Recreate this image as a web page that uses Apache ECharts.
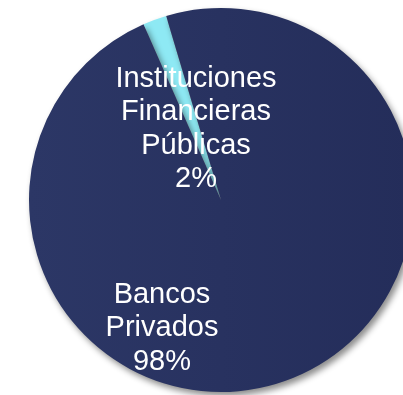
<!DOCTYPE html>
<html><head><meta charset="utf-8">
<script src="https://cdn.jsdelivr.net/npm/echarts@6/dist/echarts.min.js"></script>
<style>html,body{margin:0;padding:0;background:#fff}#c{width:403px;height:395px}</style>
</head><body><div id="c"></div>
<script>
const categories = ['Instituciones\nFinancieras\nPúblicas', 'Bancos\nPrivados'];
const values = [2, 98];
const colors = ['#8ee9f4', '#28325f'];
const labelPos = [[196, 129], [162, 328]];

const chart = echarts.init(document.getElementById('c'));
chart.setOption({
  animation: false,
  series: [{
    type: 'pie',
    center: [221, 200],
    radius: 192,
    startAngle: 113.8,
    clockwise: true,
    silent: true,
    data: categories.map((n, i) => ({
      name: n, value: values[i],
      itemStyle: {
        color: i === 1 ? new echarts.graphic.LinearGradient(0, 0, 1, 0, [
          {offset: 0, color: '#2c3766'}, {offset: 1, color: '#242d5a'}]) : colors[i]
      }
    })),
    itemStyle: {
      shadowBlur: 6, shadowOffsetX: 3, shadowOffsetY: 4, shadowColor: 'rgba(0,0,0,0.45)'
    },
    label: {
      show: true, position: 'inside',
      formatter: p => p.name + '\n' + p.value + '%',
      color: '#ffffff', fontFamily: 'Liberation Sans, Arial, sans-serif',
      fontSize: 29, lineHeight: 33.5, align: 'center'
    },
    labelLine: {show: false},
    labelLayout: p => ({x: labelPos[p.dataIndex][0], y: labelPos[p.dataIndex][1], align: 'center', verticalAlign: 'middle'})
  }]
});
</script></body></html>
